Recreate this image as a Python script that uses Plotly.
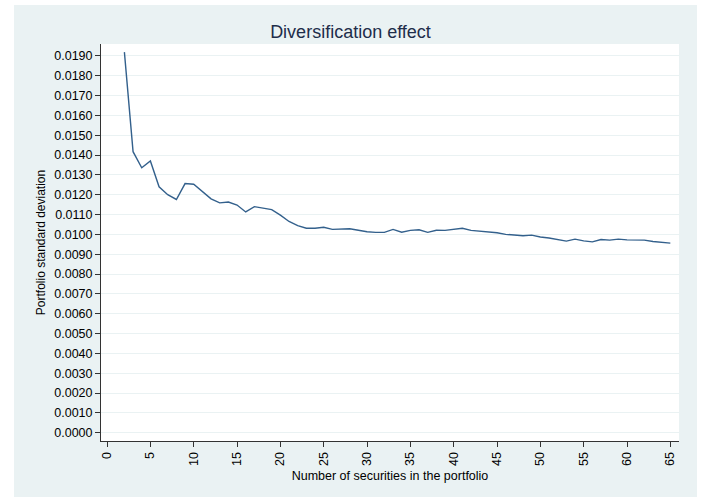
import plotly.graph_objects as go

n_securities = list(range(2, 66))
portfolio_sd = [
    0.01919, 0.01417, 0.01336, 0.01370, 0.01240, 0.01200, 0.01176, 0.01256, 0.01253,
    0.01215, 0.01179, 0.01159, 0.01163, 0.01148, 0.01113, 0.01140, 0.01134, 0.01125,
    0.01097, 0.01065, 0.01044, 0.01031, 0.01031, 0.01036, 0.01025, 0.01025, 0.01028,
    0.01021, 0.01013, 0.01010, 0.01010, 0.01025, 0.01011, 0.01020, 0.01023, 0.01010,
    0.01021, 0.01020, 0.01025, 0.01031, 0.01020, 0.01016, 0.01011, 0.01008, 0.01000,
    0.00995, 0.00993, 0.00996, 0.00987, 0.00982, 0.00974, 0.00966, 0.00976, 0.00967,
    0.00962, 0.00974, 0.00971, 0.00976, 0.00972, 0.00972, 0.00971, 0.00964, 0.00959,
    0.00956,
]
y_ticks = [i / 1000 for i in range(0, 20)]
y_tick_labels = [f"{v:.4f}" for v in y_ticks]
x_ticks = list(range(0, 70, 5))

W, H = 701, 499
L, R, T, B = 101, 22, 44, 58
pw, ph = W - L - R, H - T - B

def px(x):
    return (x - L) / pw

def py(y):
    return (H - B - y) / ph

BG = "#EAF2F3"
NAVY = "#33608C"

fig = go.Figure()
fig.add_trace(go.Scatter(
    x=n_securities, y=portfolio_sd, mode="lines",
    line=dict(color=NAVY, width=1.4), hoverinfo="x+y", showlegend=False,
))

fig.update_layout(
    width=W, height=H,
    margin=dict(l=L, r=R, t=T, b=B, pad=0, autoexpand=False),
    paper_bgcolor="white", plot_bgcolor="white",
    font=dict(family="Liberation Sans, Arial, sans-serif", size=12.5, color="black"),
    title=dict(text="Diversification effect", x=px(390), xanchor="center",
               y=1 - 32 / H, yanchor="middle",
               font=dict(size=18, color="#1E2D4A")),
    shapes=[
        dict(type="rect", xref="paper", yref="paper", layer="below",
             x0=px(14), x1=px(697), y0=py(497), y1=py(5),
             fillcolor=BG, line=dict(width=0)),
        dict(type="rect", xref="paper", yref="paper", layer="below",
             x0=0, x1=1, y0=0, y1=1,
             fillcolor="white", line=dict(width=0)),
    ],
)

fig.update_xaxes(
    range=[-0.7, 66], tickvals=x_ticks, ticktext=[str(v) for v in x_ticks],
    tickangle=-90, ticks="outside", ticklen=5, tickcolor="#333333",
    showline=True, linecolor="#333333", linewidth=1,
    showgrid=False, zeroline=False, automargin=False,
    title=dict(text="Number of securities in the portfolio", font=dict(size=12.5), standoff=6),
)
fig.update_yaxes(
    range=[-0.00042, 0.0196], tickvals=y_ticks, ticktext=y_tick_labels,
    ticks="outside", ticklen=5, tickcolor="#333333",
    showline=True, linecolor="#333333", linewidth=1,
    showgrid=True, gridcolor=BG, gridwidth=1, zeroline=False, automargin=False,
    title=dict(text="Portfolio standard deviation", font=dict(size=12), standoff=6),
)

fig.write_html("out.html", config={"displayModeBar": False},
               post_script="document.body.style.margin='0';")
